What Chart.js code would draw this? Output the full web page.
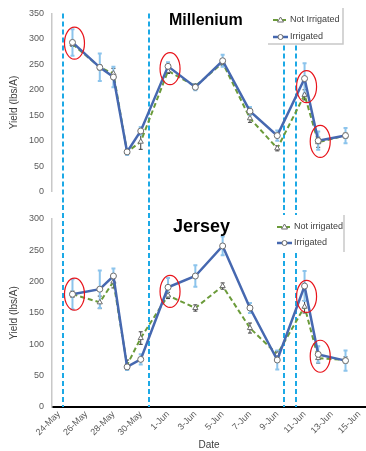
<!DOCTYPE html>
<html><head><meta charset="utf-8">
<script src="https://cdn.jsdelivr.net/npm/chart.js@4.4.0/dist/chart.umd.min.js"></script>
<style>
html,body{margin:0;padding:0;background:#fff;}
#wrap{position:relative;width:366px;height:451px;overflow:hidden;}
#c1{position:absolute;left:0;top:0;}
#c2{position:absolute;left:0;top:205px;}
</style></head><body>
<div id="wrap">
<canvas id="c1" width="366" height="205"></canvas>
<canvas id="c2" width="366" height="246"></canvas>
</div>
<script>
// ---- data ----
const dates = ['25-May','27-May','28-May','29-May','30-May','1-Jun','3-Jun','5-Jun','7-Jun','9-Jun','11-Jun','12-Jun','14-Jun'];
const tickLabels = ['24-May','26-May','28-May','30-May','1-Jun','3-Jun','5-Jun','7-Jun','9-Jun','11-Jun','13-Jun','15-Jun'];

const milNotIrrigated    = [290, 244, 232, 78, 98, 237, 207, 253, 144, 85, 190, 97, 110];
const milIrrigated       = [293, 244, 225, 78, 119, 246, 205, 257, 158, 110, 222, 100, 110];
const milNotIrrigatedErr = [5, 5, 10, 5, 15, 5, 5, 5, 8, 5, 10, 10, 5];
const milIrrigatedErr    = [26, 27, 20, 6, 8, 8, 6, 12, 8, 10, 30, 18, 15];

const jerNotIrrigated    = [180, 167, 200, 67, 110, 178, 158, 193, 126, 84, 160, 78, 75];
const jerIrrigated       = [180, 188, 209, 64, 76, 191, 209, 257, 158, 75, 193, 84, 74];
const jerNotIrrigatedErr = [5, 10, 10, 8, 10, 5, 5, 5, 8, 5, 10, 8, 5];
const jerIrrigatedErr    = [24, 30, 12, 5, 8, 15, 17, 15, 8, 15, 24, 13, 16];

// irrigation events (days after 24-May)
const irrigationEvents = [0.3, 6.6, 16.5, 17.4];
const circledDates = ['25-May','1-Jun','11-Jun','12-Jun'];

function dayOf(s){ const p = s.split('-'); return parseInt(p[0],10) - 24 + (p[1]==='Jun' ? 31 : 0); }

const FONT = '"Liberation Sans", Arial, sans-serif';
const GREEN = '#6b9b3a', BLUE = '#4668b0';

const decor = {
  id: 'decor',
  beforeDatasetsDraw(chart, args, o) {
    const {ctx, chartArea: ca, scales: {x, y}} = chart;
    ctx.save();
    ctx.strokeStyle = '#1ca9e6'; ctx.lineWidth = 2; ctx.setLineDash([5, 3]);
    irrigationEvents.forEach(v => {
      const px = Math.round(x.getPixelForValue(v));
      ctx.beginPath();
      ctx.moveTo(px, o.lineFromTop ? 0 : ca.top);
      ctx.lineTo(px, o.lineToBottom ? chart.height : ca.bottom);
      ctx.stroke();
    });
    ctx.setLineDash([]);
    chart.data.datasets.forEach(ds => {
      ctx.strokeStyle = ds.errColor; ctx.lineWidth = ds.errWidth;
      ds.data.forEach((p, i) => {
        const e = ds.errors[i];
        const px = x.getPixelForValue(p.x);
        const y1 = y.getPixelForValue(p.y - e), y2 = y.getPixelForValue(p.y + e);
        ctx.beginPath();
        ctx.moveTo(px, y1); ctx.lineTo(px, y2);
        ctx.moveTo(px - 2, y1); ctx.lineTo(px + 2, y1);
        ctx.moveTo(px - 2, y2); ctx.lineTo(px + 2, y2);
        ctx.stroke();
      });
    });
    ctx.restore();
  },
  afterDatasetsDraw(chart, args, o) {
    const {ctx, scales: {x, y}} = chart;
    const ds = chart.data.datasets;
    ctx.save();
    // red ellipses
    ctx.strokeStyle = '#e8141b'; ctx.lineWidth = 1.2;
    circledDates.forEach(d => {
      const i = dates.indexOf(d);
      const v = (ds[0].data[i].y + ds[1].data[i].y) / 2;
      const cx = x.getPixelForValue(dayOf(d)) + 2, cy = y.getPixelForValue(v);
      ctx.beginPath(); ctx.ellipse(cx, cy, 10, 16, 0, 0, Math.PI * 2); ctx.stroke();
    });
    // title
    ctx.fillStyle = '#000';
    ctx.font = 'bold ' + o.titleSize + 'px ' + FONT;
    ctx.textBaseline = 'alphabetic'; ctx.textAlign = 'left';
    ctx.fillText(o.title, o.titleX, o.titleY);
    // legend
    const L = o.legend;
    ctx.fillStyle = '#fff'; ctx.fillRect(L.x, L.y, L.w, L.h);
    ctx.strokeStyle = '#c8c8c8'; ctx.lineWidth = 1.5;
    ctx.beginPath(); ctx.moveTo(L.x + L.w, L.y); ctx.lineTo(L.x + L.w, L.y + L.h);
    if (L.bottomBorder) { ctx.lineTo(L.x, L.y + L.h); }
    ctx.stroke();
    ctx.font = '9px ' + FONT; ctx.textBaseline = 'middle'; ctx.fillStyle = '#404040';
    [0, 1].forEach(k => {
      const d = ds[k], yy = L.rows[k];
      ctx.strokeStyle = d.borderColor; ctx.lineWidth = d.borderWidth;
      ctx.setLineDash(d.borderDash || []);
      ctx.beginPath(); ctx.moveTo(L.sx, yy); ctx.lineTo(L.sx + 15, yy); ctx.stroke();
      ctx.setLineDash([]);
      ctx.fillStyle = '#fff'; ctx.strokeStyle = '#6e6e6e'; ctx.lineWidth = 1;
      const mx = L.sx + 7.5;
      ctx.beginPath();
      if (d.pointStyle === 'triangle') { ctx.moveTo(mx, yy - 3); ctx.lineTo(mx + 3, yy + 2); ctx.lineTo(mx - 3, yy + 2); ctx.closePath(); }
      else { ctx.arc(mx, yy, 2.5, 0, Math.PI * 2); }
      ctx.fill(); ctx.stroke();
      ctx.fillStyle = '#404040';
      ctx.fillText(d.label, L.sx + 17, yy);
    });
    ctx.restore();
  }
};

function makeChart(cfg) {
  const pts = arr => dates.map((d, i) => ({x: dayOf(d), y: arr[i]}));
  return new Chart(document.getElementById(cfg.id), {
    type: 'line',
    data: { datasets: [
      { label: cfg.legendLabels[0], data: pts(cfg.notIrr), borderColor: GREEN, borderDash: [5, 3], borderWidth: 2,
        pointStyle: 'triangle', pointRadius: 3, pointBackgroundColor: '#fff', pointBorderColor: '#6e6e6e', pointBorderWidth: 1,
        order: 1, errors: cfg.notIrrErr, errColor: '#3a3a3a', errWidth: 1 },
      { label: cfg.legendLabels[1], data: pts(cfg.irr), borderColor: BLUE, borderWidth: 2.5,
        pointStyle: 'circle', pointRadius: 3, pointBackgroundColor: '#fff', pointBorderColor: '#6e6e6e', pointBorderWidth: 1,
        order: 0, errors: cfg.irrErr, errColor: '#8cc4ec', errWidth: 2 }
    ]},
    options: {
      responsive: false, animation: false,
      layout: { autoPadding: false, padding: { top: cfg.padTop, left: 0, right: 0, bottom: 0 } },
      plugins: { legend: { display: false }, tooltip: { enabled: false }, decor: cfg.decor },
      scales: {
        x: {
          type: 'linear', min: -0.5, max: 22.5,
          afterFit: s => { s.height = cfg.xH; s.paddingRight = 0; s.paddingLeft = 0; },
          afterBuildTicks: s => { s.ticks = tickLabels.map(t => ({value: dayOf(t)})); },
          ticks: { display: cfg.showX, autoSkip: false, minRotation: 45, maxRotation: 45, color: '#595959',
                   font: { size: 9, family: FONT }, padding: 2, callback: (v, i) => tickLabels[i] },
          grid: { display: false, drawTicks: false },
          border: { display: cfg.showX, color: '#000', width: 2 },
          title: { display: cfg.showX, text: 'Date', color: '#404040', font: { size: 10, family: FONT }, padding: { top: 0, bottom: 0 } }
        },
        y: {
          min: 0, max: cfg.yMax,
          afterFit: s => { s.width = 52; },
          ticks: { stepSize: 50, color: '#595959', font: { size: 9, family: FONT }, padding: 8 },
          grid: { display: false, drawTicks: false },
          border: { display: true, color: '#c8c8c8', width: 1.5 },
          title: { display: true, text: 'Yield (lbs/A)', color: '#404040', font: { size: 10, family: FONT }, padding: { top: 8, bottom: 0 } }
        }
      }
    },
    plugins: [decor]
  });
}

makeChart({
  id: 'c1', notIrr: milNotIrrigated, irr: milIrrigated, notIrrErr: milNotIrrigatedErr, irrErr: milIrrigatedErr,
  legendLabels: ['Not Irrigated', 'Irrigated'], yMax: 350, padTop: 11, xH: 6, showX: false,
  decor: { lineFromTop: false, lineToBottom: true, title: 'Millenium', titleSize: 16, titleX: 169, titleY: 25,
           legend: { x: 268, y: 8, w: 75, h: 36, rows: [20, 37], sx: 273, bottomBorder: true } }
});
makeChart({
  id: 'c2', notIrr: jerNotIrrigated, irr: jerIrrigated, notIrrErr: jerNotIrrigatedErr, irrErr: jerIrrigatedErr,
  legendLabels: ['Not irrigated', 'Irrigated'], yMax: 300, padTop: 14, xH: 44, showX: true,
  decor: { lineFromTop: true, lineToBottom: false, title: 'Jersey', titleSize: 18, titleX: 173, titleY: 27,
           legend: { x: 272, y: 10, w: 72, h: 37, rows: [22, 38], sx: 277, bottomBorder: false } }
});
</script>
</body></html>
